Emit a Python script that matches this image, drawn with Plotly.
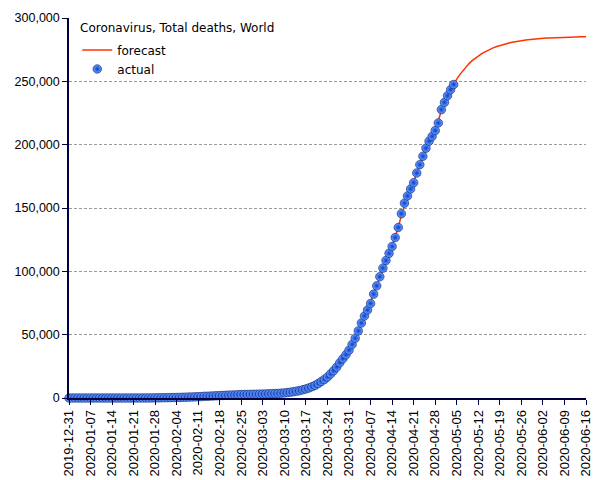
import pandas as pd
import plotly.graph_objects as go

# cumulative deaths, world, daily from 2019-12-31
actual_start = "2019-12-31"
actual_deaths = [
    0, 0, 0, 0, 0, 0, 0, 0, 0, 0, 0,
    1, 1, 1, 1, 1, 1, 2, 2, 2, 3, 6, 17, 18, 26, 41, 56, 80, 106, 132, 170, 213,
    259, 305, 362, 426, 492, 565, 638, 724, 813, 910, 1018, 1115, 1369, 1383, 1526,
    1669, 1775, 1873, 2009, 2126, 2247, 2360, 2460, 2618, 2699, 2763, 2800, 2858, 2923,
    2977, 3050, 3117, 3202, 3285, 3387, 3494, 3599, 3827, 4025, 4296, 4628, 4981, 5428,
    5833, 6520, 7162, 7979, 8963, 10030, 11386, 13069, 14688, 16556, 19045, 21574,
    24398, 27876, 31018, 34148, 37783,
    42305, 47197, 52983, 59140, 64725, 69473, 74640, 82014, 88529, 95735, 102525,
    108502, 114185, 119618, 126654, 134615, 145517, 153822, 159510, 165043, 169985,
    177616, 184217, 190858, 197246, 202733, 206544, 211167, 217153, 227665,
    233388, 238650, 243401, 247503,
]

# forecast, daily from 2020-03-01
forecast_start = "2020-03-01"
forecast_deaths = [
    2980, 3050, 3120, 3200, 3290, 3390, 3500, 3620, 3800, 4020, 4300, 4630, 4990, 5420,
    5860, 6500, 7170, 7990, 8970, 10050, 11380, 13050, 14700, 16580, 19020, 21600,
    24400, 27850, 31000, 34200, 37900,
    42300, 47200, 52900, 58900, 64500, 69800, 75300, 81800, 88400, 95300, 102000,
    108400, 114400, 120300, 126900, 134800, 144200, 152200, 158800, 164700, 170600,
    177300, 184000, 190600, 196800, 202300, 207300, 212600, 218700, 227000,
    233000, 238500, 243400, 247800, 251800, 255300, 258500, 261400, 264000, 266300,
    268300, 270100, 271700, 273100, 274400, 275600, 276600, 277500, 278300, 279000,
    279700, 280300, 280800, 281300, 281700, 282100, 282500, 282800, 283100, 283400, 283600,
    283800, 284000, 284200, 284300, 284450, 284550, 284650, 284750, 284830, 284900,
    284960, 285020, 285070, 285110, 285150, 285200,
]

x_start, x_end = "2019-12-31", "2020-06-16"
y_ticks = [0, 50000, 100000, 150000, 200000, 250000, 300000]

actual_dates = pd.date_range(actual_start, periods=len(actual_deaths), freq="D")
forecast_dates = pd.date_range(forecast_start, periods=len(forecast_deaths), freq="D")
week_ticks = pd.date_range(x_start, x_end, freq="7D")

AXIS = "#000040"
TICK_FONT = "Liberation Sans"
TEXT_FONT = "DejaVu Sans"

fig = go.Figure()
fig.add_trace(go.Scatter(
    x=forecast_dates, y=forecast_deaths, mode="lines", name="forecast",
    line=dict(color="#ff3300", width=1.5),
))
fig.add_trace(go.Scatter(
    x=actual_dates, y=actual_deaths, mode="markers", name="actual",
    cliponaxis=False,
    marker=dict(size=8.5, color="#6aa4ff",
                gradient=dict(type="radial", color="#0a3ad0"),
                line=dict(color="#00156e", width=0.6)),
))

fig.add_annotation(
    text="Coronavirus, Total deaths, World", xref="paper", yref="paper",
    x=0.018, y=0.997, xanchor="left", yanchor="top", showarrow=False,
    font=dict(family=TEXT_FONT, size=12, color="black"),
)

fig.update_xaxes(
    range=[x_start, x_end], tickvals=week_ticks, tickformat="%Y-%m-%d",
    tickangle=-90, showgrid=False, showline=True, linecolor=AXIS, linewidth=1.5,
    ticks="outside", ticklen=5, tickcolor=AXIS, zeroline=False, automargin=False,
    tickfont=dict(family=TICK_FONT, size=13, color="black"),
)
fig.update_yaxes(
    range=[0, 300000], tickvals=y_ticks, tickformat=",d",
    showgrid=True, gridcolor="#9a9a9a", gridwidth=1, griddash="3px,2px",
    showline=True, linecolor=AXIS, linewidth=1.5, ticks="outside", ticklen=5,
    tickcolor=AXIS, zeroline=False, automargin=False,
    tickfont=dict(family=TICK_FONT, size=12.5, color="black"),
)

# page body adds ~7px offset, so the figure is a little smaller than the window
fig.update_layout(
    width=597, height=472,
    margin=dict(l=61, r=19, t=10, b=82),
    paper_bgcolor="white", plot_bgcolor="white",
    legend=dict(x=0.016, y=0.954, xanchor="left", yanchor="top",
                bgcolor="rgba(0,0,0,0)", tracegroupgap=0,
                font=dict(family=TEXT_FONT, size=12, color="black")),
)

fig.write_html("out.html")
